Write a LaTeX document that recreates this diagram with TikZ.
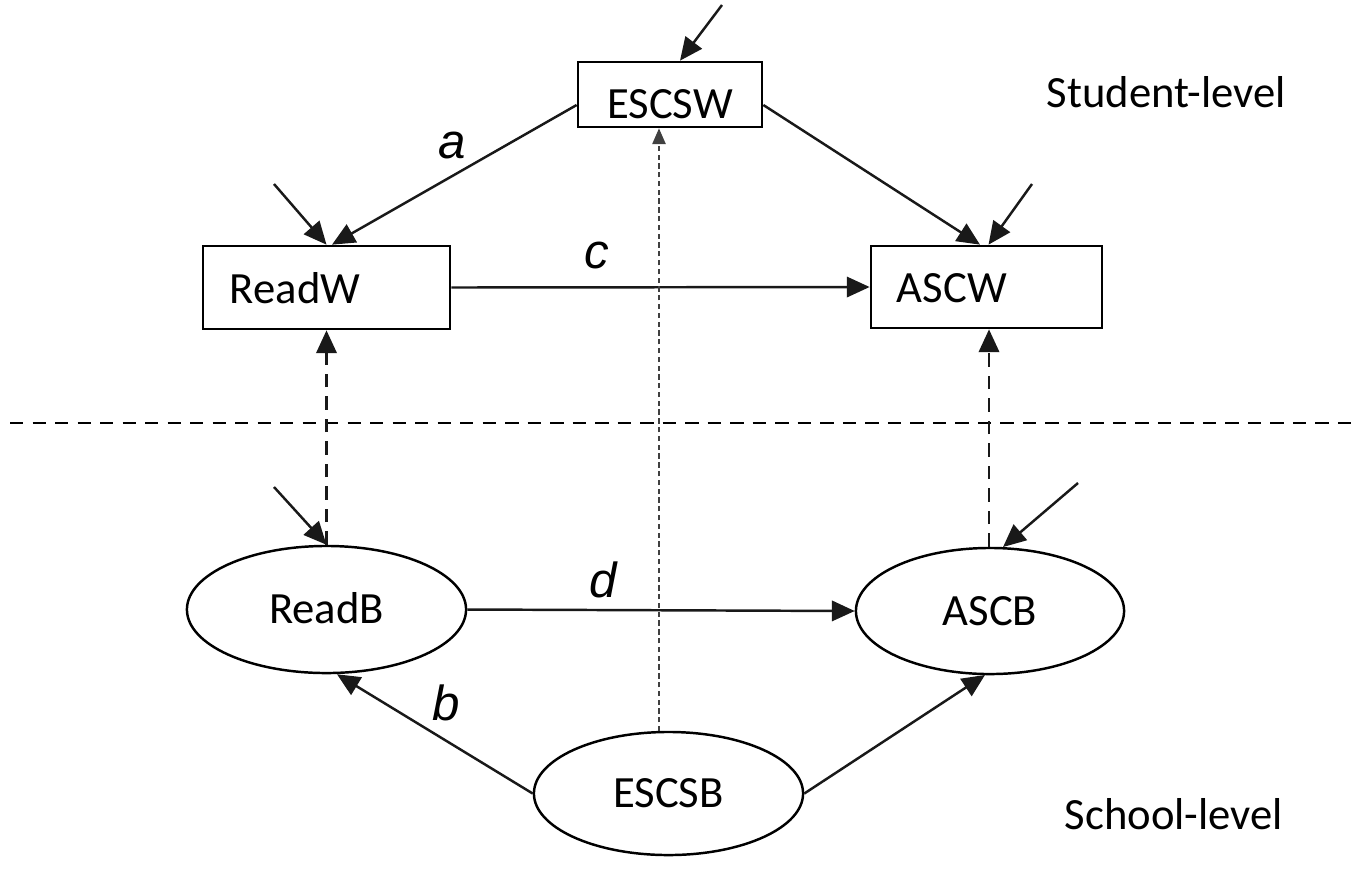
\documentclass[tikz,border=0pt]{standalone}
\usepackage{fontspec}
\setmainfont{Carlito}
\newfontfamily\labfont{Liberation Sans}
\usetikzlibrary{arrows.meta,shapes.geometric,calc}
\begin{document}
\begin{tikzpicture}[x=0.01cm,y=-0.01cm,
  every node/.style={font=\fontsize{12.7}{15}\selectfont},
  rectbox/.style={draw,line width=0.75pt,rectangle,inner sep=0pt,text depth=0pt},
  ellbox/.style={draw,line width=0.7pt,ellipse,inner sep=0pt,text height=0.28cm,text depth=0pt},
  conn/.style={line width=0.7pt,draw=black!90,-{Triangle[length=6.5pt,width=5.8pt]}},
  dconn/.style={line width=0.75pt,draw=black!90,dash pattern=on 3.8pt off 2.6pt,-{Triangle[length=6.5pt,width=5.8pt]}},
  dotconn/.style={line width=0.45pt,draw=black!75,dash pattern=on 1.5pt off 1pt,-{Triangle[length=4.5pt,width=3.8pt]}},
  lab/.style={font=\labfont\itshape\fontsize{14}{16}\selectfont,anchor=base,inner sep=0pt},
  lvl/.style={anchor=base west,inner sep=0pt}]
\useasboundingbox (0,0) rectangle (1364,875);

% nodes
\node[rectbox,minimum width=1.84cm,minimum height=0.65cm,text height=0.47cm] (ESCSW) at (670,94.5) {ESCSW};
\node[rectbox,minimum width=2.47cm,minimum height=0.83cm,text height=0.31cm,text width=1.93cm,align=left,inner xsep=0.27cm] (ReadW) at (326.5,287.5) {ReadW};
\node[rectbox,minimum width=2.31cm,minimum height=0.82cm,text height=0.30cm,text width=1.79cm,align=left,inner xsep=0.26cm] (ASCW) at (986.5,287) {ASCW};
\node[ellbox,minimum width=2.79cm,minimum height=1.27cm] (ReadB) at (326.5,609.5) {ReadB};
\node[ellbox,minimum width=2.68cm,minimum height=1.26cm] (ASCB) at (990,611) {ASCB};
\node[ellbox,minimum width=2.69cm,minimum height=1.23cm] (ESCSB) at (668.5,793.5) {ESCSB};

% level labels
\node[lvl] (stu) at (1046,107) {Student-level};
\node[lvl] (sch) at (1064,829) {School-level};

% path labels
\node[lab] (la) at (452,158) {a};
\node[lab] (lc) at (597,268) {c};
\node[lab] (ld) at (603,597) {d};
\node[lab] (lb) at (446,720) {b};

% level separator
\coordinate (sepL) at (10,423);
\coordinate (sepR) at (1356,423);
\draw[line width=0.8pt,dash pattern=on 3.8pt off 2.6pt] (sepL) -- (sepR);

% residual arrows
\coordinate (eESCSW) at (722,5);
\coordinate (eReadW) at (274,184);
\coordinate (eASCW) at (1032,184);
\coordinate (eReadB) at (274,487);
\coordinate (eASCB) at (1078,483);
\draw[conn] (eESCSW) -- ([xshift=0.1cm]ESCSW.north);
\draw[conn] (eReadW) -- (ReadW.north);
\draw[conn] (eASCW) -- ([xshift=0.02cm]ASCW.north);
\draw[conn] (eReadB) -- (ReadB.north);
\draw[conn] (eASCB) -- ([xshift=0.13cm,yshift=-0.003cm]ASCB.north);

% structural paths
\draw[conn] ([yshift=-0.105cm]ESCSW.west) -- ([xshift=0.055cm]ReadW.north);
\draw[conn] ([yshift=-0.105cm]ESCSW.east) -- ([xshift=-0.065cm]ASCW.north);
\draw[conn] (ReadW.east) -- (ASCW.west);
\draw[conn] (ReadB.east) -- (ASCB.west);
\draw[conn] (ESCSB.west) -- ([xshift=0.105cm]ReadB.south);
\draw[conn] (ESCSB.east) -- ([xshift=-0.05cm,yshift=0.003cm]ASCB.south);

% between-within links
\draw[dconn] (ReadB.north) -- (ReadW.south);
\coordinate (ascbTop) at ([xshift=-0.01cm]ASCB.north);
\draw[dconn] (ascbTop) -- (ascbTop |- ASCW.south);
\coordinate (escsbTop) at ([xshift=-0.095cm,yshift=-0.005cm]ESCSB.north);
\draw[dotconn] (escsbTop) -- (escsbTop |- ESCSW.south);
\end{tikzpicture}
\end{document}
